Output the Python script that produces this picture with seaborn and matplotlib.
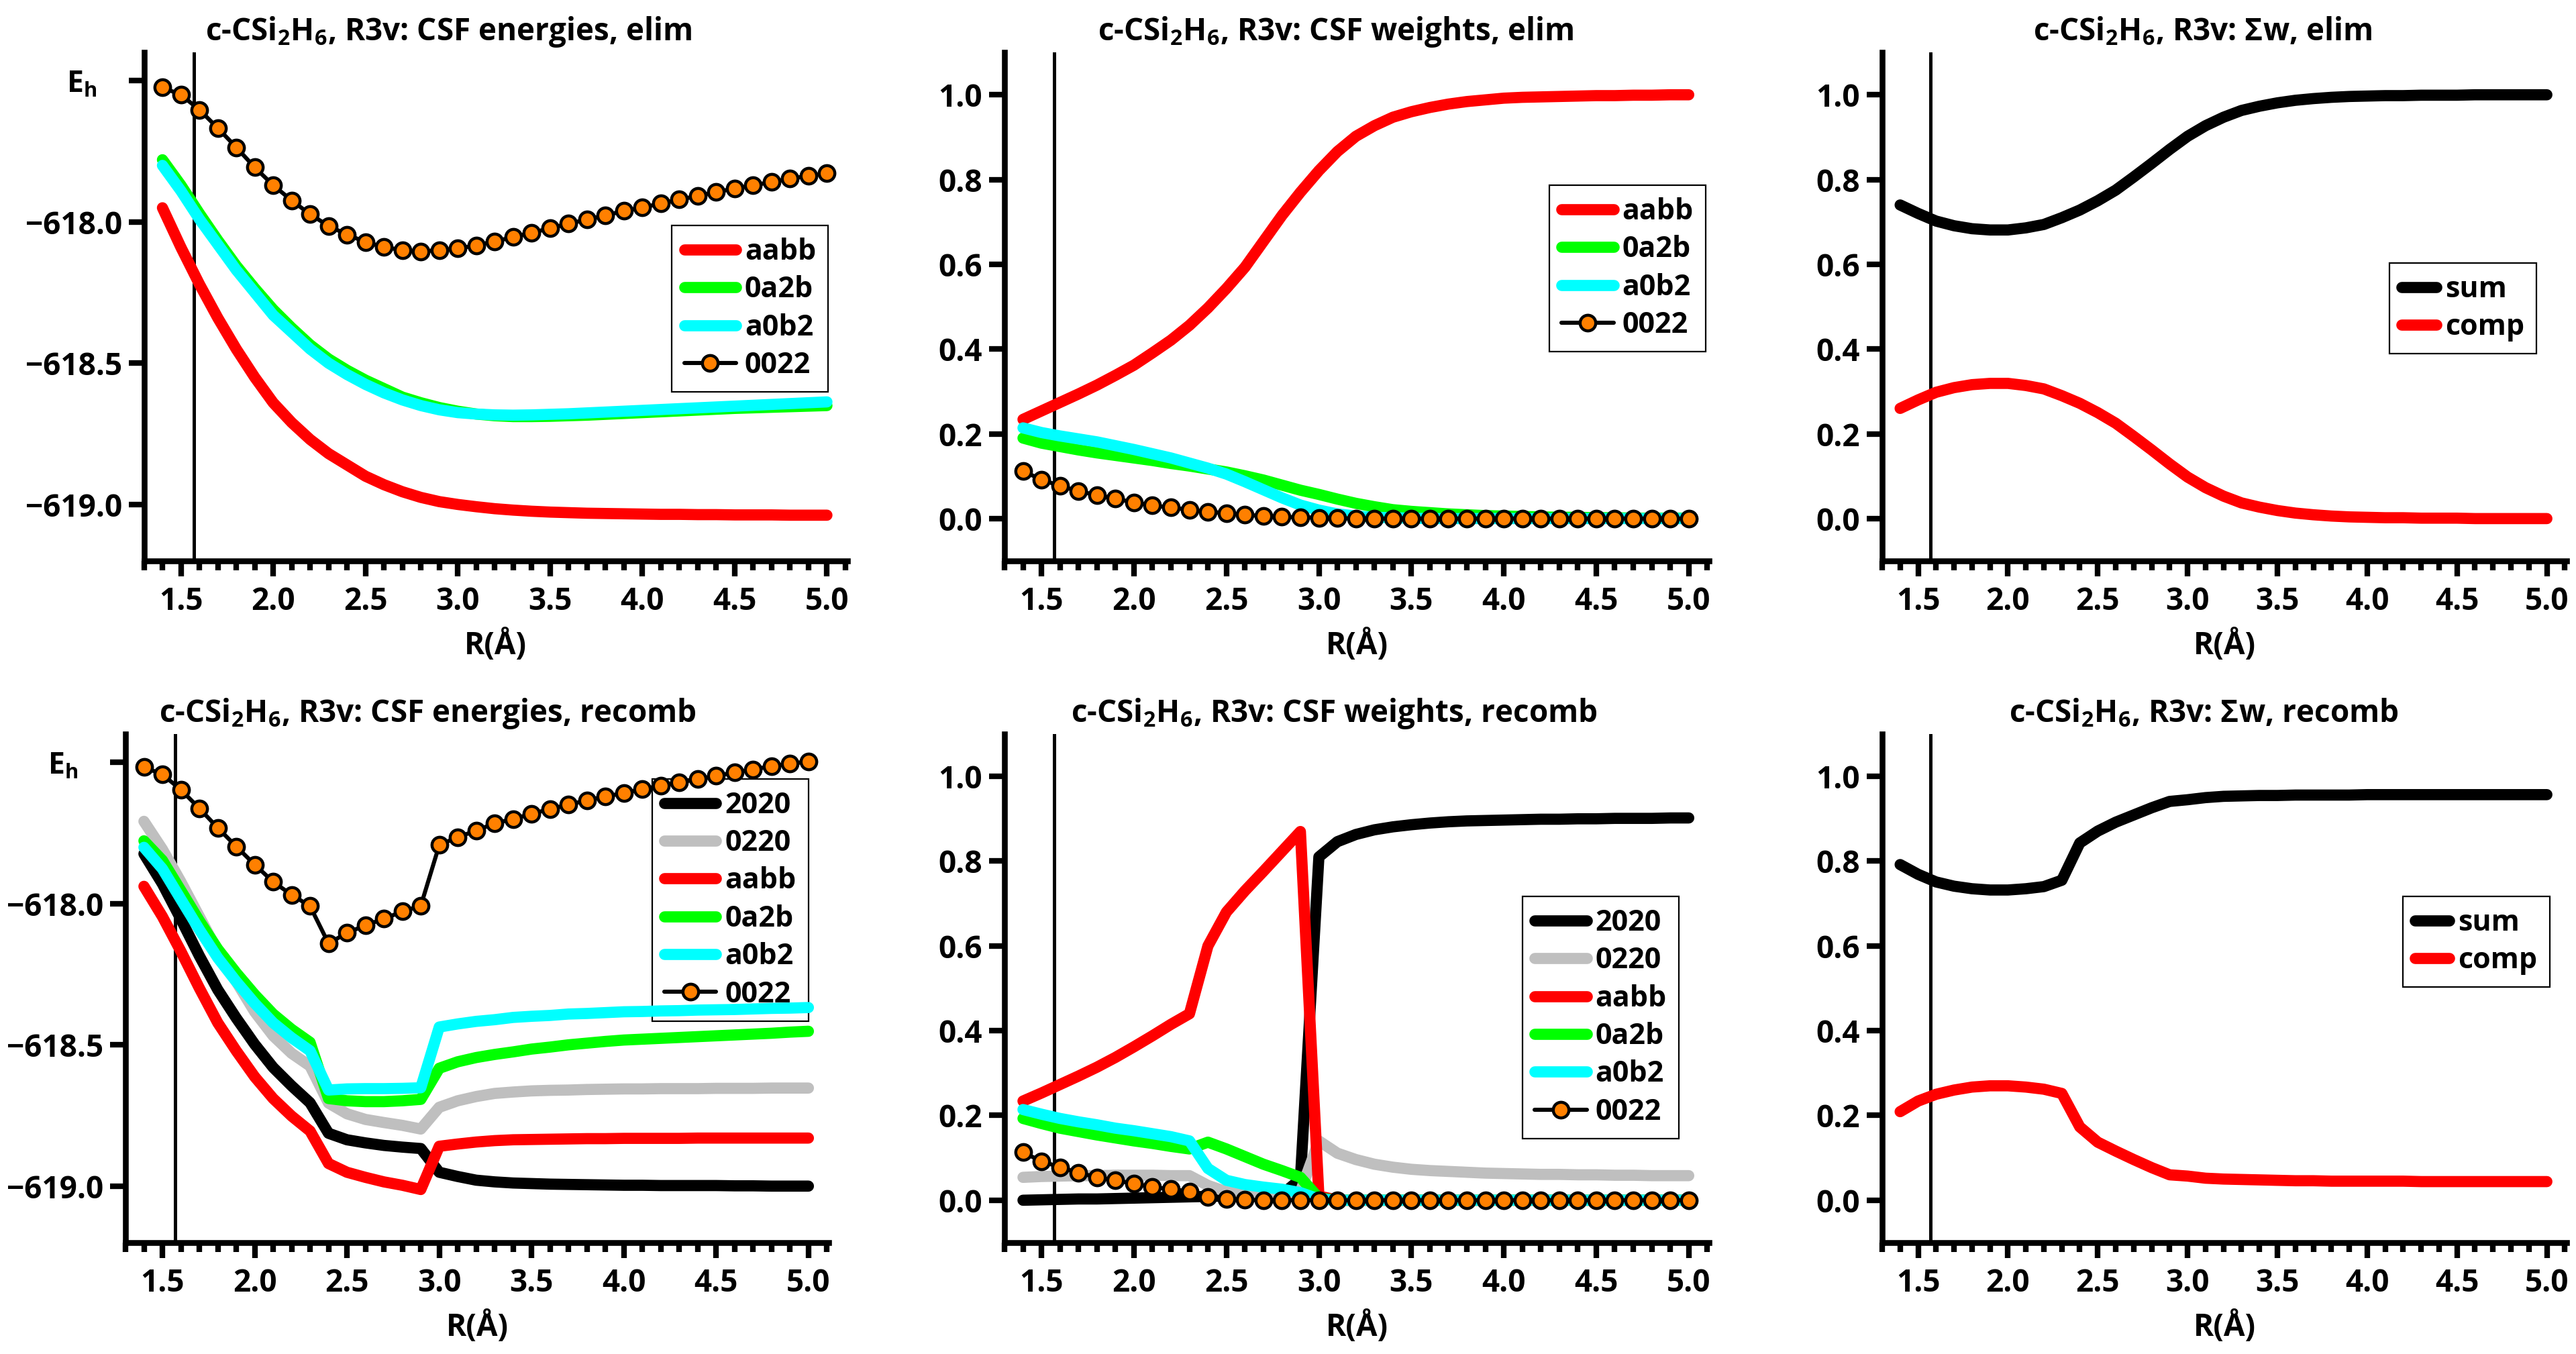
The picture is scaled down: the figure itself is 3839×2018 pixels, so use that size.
import numpy as np
import pandas as pd
import matplotlib
matplotlib.use('Agg')
import matplotlib.pyplot as plt
import seaborn as sns
from matplotlib.ticker import MultipleLocator, FormatStrFormatter

# bond length grid (Angstrom)
R = [1.4, 1.5, 1.6, 1.7, 1.8, 1.9, 2.0, 2.1, 2.2, 2.3, 2.4, 2.5, 2.6, 2.7, 2.8, 2.9, 3.0,
     3.1, 3.2, 3.3, 3.4, 3.5, 3.6, 3.7, 3.8, 3.9, 4.0,
     4.1, 4.2, 4.3, 4.4, 4.5, 4.6, 4.7, 4.8, 4.9, 5.0]
R_EQ = 1.57

# ---- elim: CSF energies (Eh)
e_elim_aabb = [-617.95, -618.09, -618.22, -618.34, -618.45, -618.55, -618.64, -618.71, -618.77, -618.82,
               -618.86, -618.90, -618.93, -618.955, -618.975, -618.99, -619.00,
               -619.008, -619.015, -619.02, -619.024, -619.027, -619.029, -619.031, -619.032, -619.033, -619.034,
               -619.035, -619.035, -619.036, -619.036, -619.037, -619.037, -619.037, -619.038, -619.038, -619.038]
e_elim_0a2b = [-617.78, -617.87, -617.97, -618.065, -618.155, -618.235, -618.31, -618.375, -618.435, -618.485,
               -618.525, -618.56, -618.59, -618.62, -618.64, -618.657, -618.67,
               -618.68, -618.686, -618.689, -618.689, -618.688, -618.686, -618.684, -618.681, -618.678, -618.675,
               -618.672, -618.669, -618.666, -618.663, -618.660, -618.658, -618.656, -618.654, -618.652, -618.650]
e_elim_a0b2 = [-617.80, -617.89, -617.99, -618.08, -618.17, -618.25, -618.33, -618.39, -618.45, -618.50,
               -618.54, -618.575, -618.605, -618.63, -618.65, -618.665, -618.675,
               -618.68, -618.683, -618.684, -618.683, -618.681, -618.679, -618.676, -618.673, -618.670, -618.667,
               -618.664, -618.661, -618.658, -618.655, -618.652, -618.649, -618.646, -618.643, -618.640, -618.637]
e_elim_0022 = [-617.524, -617.55, -617.603, -617.668, -617.736, -617.807, -617.870, -617.924, -617.973, -618.014,
               -618.045, -618.071, -618.089, -618.100, -618.104, -618.100, -618.094,
               -618.083, -618.069, -618.054, -618.038, -618.023, -618.006, -617.992, -617.977, -617.961, -617.949,
               -617.935, -617.921, -617.908, -617.894, -617.882, -617.870, -617.859, -617.847, -617.837, -617.828]

# ---- elim: CSF weights
w_elim_aabb = [0.234, 0.254, 0.274, 0.294, 0.315, 0.338, 0.362, 0.391, 0.421, 0.456,
               0.497, 0.543, 0.593, 0.654, 0.715, 0.770, 0.821,
               0.866, 0.902, 0.927, 0.947, 0.960, 0.970, 0.978, 0.984, 0.988, 0.992,
               0.994, 0.995, 0.996, 0.997, 0.998, 0.998, 0.999, 0.999, 1.0, 1.0]
w_elim_0a2b = [0.190, 0.178, 0.170, 0.162, 0.155, 0.149, 0.143, 0.137, 0.130, 0.124,
               0.117, 0.110, 0.101, 0.091, 0.079, 0.067, 0.057,
               0.046, 0.036, 0.028, 0.021, 0.017, 0.014, 0.011, 0.009, 0.007, 0.006,
               0.005, 0.004, 0.003, 0.003, 0.002, 0.002, 0.001, 0.001, 0.001, 0.001]
w_elim_a0b2 = [0.214, 0.203, 0.195, 0.188, 0.181, 0.172, 0.163, 0.153, 0.143, 0.131,
               0.119, 0.105, 0.087, 0.068, 0.049, 0.032, 0.020,
               0.011, 0.006, 0.003, 0.002, 0.001, 0.0, 0.0, 0.0, 0.0, 0.0,
               0.0, 0.0, 0.0, 0.0, 0.0, 0.0, 0.0, 0.0, 0.0, 0.0]
w_elim_0022 = [0.112, 0.092, 0.077, 0.065, 0.055, 0.047, 0.038, 0.031, 0.026, 0.021,
               0.016, 0.013, 0.009, 0.006, 0.004, 0.003, 0.002,
               0.001, 0.0, 0.0, 0.0, 0.0, 0.0, 0.0, 0.0, 0.0, 0.0,
               0.0, 0.0, 0.0, 0.0, 0.0, 0.0, 0.0, 0.0, 0.0, 0.0]

# ---- elim: sum of weights / complement
s_elim_sum = [0.740, 0.720, 0.702, 0.691, 0.684, 0.681, 0.681, 0.686, 0.694, 0.710,
              0.728, 0.750, 0.775, 0.806, 0.838, 0.871, 0.902,
              0.927, 0.947, 0.963, 0.973, 0.981, 0.987, 0.991, 0.994, 0.996, 0.997,
              0.998, 0.998, 0.999, 0.999, 0.999, 1.0, 1.0, 1.0, 1.0, 1.0]
s_elim_comp = [0.260, 0.280, 0.298, 0.309, 0.316, 0.319, 0.319, 0.314, 0.306, 0.290,
               0.272, 0.250, 0.225, 0.194, 0.162, 0.129, 0.098,
               0.073, 0.053, 0.037, 0.027, 0.019, 0.013, 0.009, 0.006, 0.004, 0.003,
               0.002, 0.002, 0.001, 0.001, 0.001, 0.0, 0.0, 0.0, 0.0, 0.0]

# ---- recomb: CSF energies (Eh)
e_rec_2020 = [-617.824, -617.93, -618.055, -618.185, -618.305, -618.405, -618.498, -618.58, -618.645, -618.705,
              -618.813, -618.836, -618.847, -618.856, -618.862, -618.867, -618.951,
              -618.966, -618.979, -618.985, -618.989, -618.991, -618.993, -618.994, -618.995, -618.996, -618.997,
              -618.997, -618.998, -618.998, -618.998, -618.998, -618.999, -618.999, -619.0, -619.0, -619.0]
e_rec_0220 = [-617.709, -617.808, -617.923, -618.046, -618.169, -618.276, -618.383, -618.468, -618.530, -618.575,
              -618.706, -618.744, -618.764, -618.775, -618.785, -618.798, -618.721,
              -618.698, -618.683, -618.672, -618.667, -618.663, -618.661, -618.660, -618.658, -618.657, -618.656,
              -618.656, -618.655, -618.655, -618.655, -618.654, -618.654, -618.654, -618.653, -618.653, -618.653]
e_rec_aabb = [-617.939, -618.046, -618.169, -618.299, -618.422, -618.521, -618.613, -618.69, -618.752, -618.805,
              -618.92, -618.951, -618.969, -618.985, -618.997, -619.012, -618.859,
              -618.851, -618.844, -618.839, -618.836, -618.835, -618.834, -618.833, -618.832, -618.832, -618.831,
              -618.831, -618.831, -618.831, -618.830, -618.830, -618.830, -618.830, -618.830, -618.830, -618.830]
e_rec_0a2b = [-617.778, -617.847, -617.954, -618.061, -618.161, -618.245, -618.322, -618.391, -618.445, -618.491,
              -618.69, -618.698, -618.701, -618.701, -618.698, -618.693, -618.583,
              -618.56, -618.545, -618.534, -618.525, -618.515, -618.508, -618.50, -618.494, -618.488, -618.483,
              -618.480, -618.477, -618.474, -618.471, -618.468, -618.465, -618.462, -618.459, -618.455, -618.452]
e_rec_a0b2 = [-617.801, -617.877, -617.985, -618.092, -618.192, -618.276, -618.353, -618.422, -618.475, -618.521,
              -618.66, -618.656, -618.655, -618.655, -618.654, -618.652, -618.437,
              -618.426, -618.417, -618.411, -618.403, -618.399, -618.396, -618.391, -618.389, -618.386, -618.383,
              -618.382, -618.380, -618.379, -618.377, -618.376, -618.375, -618.373, -618.371, -618.370, -618.368]
e_rec_0022 = [-617.517, -617.543, -617.597, -617.663, -617.732, -617.798, -617.862, -617.923, -617.969, -618.009,
              -618.141, -618.104, -618.077, -618.054, -618.028, -618.008, -617.793,
              -617.765, -617.742, -617.716, -617.701, -617.682, -617.666, -617.650, -617.635, -617.621, -617.609,
              -617.595, -617.583, -617.571, -617.560, -617.548, -617.536, -617.525, -617.514, -617.505, -617.497]

# ---- recomb: CSF weights
w_rec_2020 = [0.0, 0.001, 0.002, 0.003, 0.003, 0.004, 0.005, 0.006, 0.007, 0.008,
              0.009, 0.010, 0.011, 0.012, 0.013, 0.050, 0.810,
              0.846, 0.863, 0.874, 0.881, 0.886, 0.890, 0.893, 0.895, 0.896, 0.897,
              0.898, 0.899, 0.899, 0.900, 0.900, 0.901, 0.901, 0.901, 0.902, 0.902]
w_rec_0220 = [0.054, 0.056, 0.057, 0.058, 0.058, 0.059, 0.059, 0.059, 0.058, 0.058,
              0.035, 0.020, 0.015, 0.012, 0.010, 0.020, 0.140,
              0.111, 0.096, 0.085, 0.078, 0.073, 0.070, 0.068, 0.066, 0.064, 0.063,
              0.062, 0.061, 0.061, 0.060, 0.060, 0.059, 0.059, 0.058, 0.058, 0.058]
w_rec_aabb = [0.234, 0.253, 0.273, 0.293, 0.314, 0.337, 0.362, 0.388, 0.415, 0.440,
              0.600, 0.680, 0.730, 0.776, 0.823, 0.870, 0.010,
              0.0, 0.0, 0.0, 0.0, 0.0, 0.0, 0.0, 0.0, 0.0, 0.0,
              0.0, 0.0, 0.0, 0.0, 0.0, 0.0, 0.0, 0.0, 0.0, 0.0]
w_rec_0a2b = [0.193, 0.181, 0.170, 0.162, 0.154, 0.147, 0.140, 0.134, 0.127, 0.121,
              0.137, 0.121, 0.103, 0.085, 0.070, 0.054, 0.005,
              0.0, 0.0, 0.0, 0.0, 0.0, 0.0, 0.0, 0.0, 0.0, 0.0,
              0.0, 0.0, 0.0, 0.0, 0.0, 0.0, 0.0, 0.0, 0.0, 0.0]
w_rec_a0b2 = [0.214, 0.203, 0.193, 0.185, 0.178, 0.170, 0.164, 0.157, 0.150, 0.140,
              0.075, 0.047, 0.037, 0.031, 0.026, 0.018, 0.003,
              0.0, 0.0, 0.0, 0.0, 0.0, 0.0, 0.0, 0.0, 0.0, 0.0,
              0.0, 0.0, 0.0, 0.0, 0.0, 0.0, 0.0, 0.0, 0.0, 0.0]
w_rec_0022 = [0.113, 0.092, 0.078, 0.065, 0.054, 0.047, 0.039, 0.031, 0.026, 0.021,
              0.008, 0.003, 0.001, 0.0, 0.0, 0.0, 0.0,
              0.0, 0.0, 0.0, 0.0, 0.0, 0.0, 0.0, 0.0, 0.0, 0.0,
              0.0, 0.0, 0.0, 0.0, 0.0, 0.0, 0.0, 0.0, 0.0, 0.0]

# ---- recomb: sum of weights / complement
s_rec_sum = [0.792, 0.769, 0.751, 0.741, 0.735, 0.732, 0.732, 0.735, 0.740, 0.755,
             0.843, 0.871, 0.892, 0.909, 0.926, 0.941, 0.945,
             0.950, 0.953, 0.954, 0.955, 0.955, 0.956, 0.956, 0.956, 0.956, 0.957,
             0.957, 0.957, 0.957, 0.957, 0.957, 0.957, 0.957, 0.957, 0.957, 0.957]
s_rec_comp = [0.209, 0.234, 0.250, 0.260, 0.267, 0.270, 0.270, 0.267, 0.262, 0.252,
              0.173, 0.137, 0.116, 0.096, 0.077, 0.060, 0.057,
              0.052, 0.050, 0.049, 0.048, 0.047, 0.046, 0.046, 0.045, 0.045, 0.045,
              0.045, 0.045, 0.044, 0.044, 0.044, 0.044, 0.044, 0.044, 0.044, 0.044]

COLORS = {'2020': 'black', '0220': '#bfbfbf', 'aabb': '#ff0000', '0a2b': '#00ff00',
          'a0b2': '#00ffff', 'sum': 'black', 'comp': '#ff0000'}
ORANGE = '#ff8000'
LW = 6.0
FS = 16.5

sns.set_theme(style='ticks')
plt.rcParams['font.family'] = ['Open Sans', 'DejaVu Sans']
plt.rcParams['font.weight'] = 'bold'
plt.rcParams['axes.labelweight'] = 'bold'
plt.rcParams['axes.titleweight'] = 'bold'
plt.rcParams['mathtext.default'] = 'regular'
for k in ['text.color', 'axes.labelcolor', 'xtick.color', 'ytick.color', 'axes.edgecolor']:
    plt.rcParams[k] = 'black'

fig = plt.figure(figsize=(19.195, 10.09), dpi=200)

rects = {
    'TL': [0.0559, 0.5857, 0.27299, 0.3756],
    'TM': [0.38995, 0.5857, 0.27351, 0.3756],
    'TR': [0.73066, 0.5857, 0.26570, 0.3756],
    'BL': [0.04871, 0.08226, 0.27299, 0.37562],
    'BM': [0.38995, 0.08226, 0.27351, 0.37562],
    'BR': [0.73066, 0.08226, 0.26570, 0.37562],
}


def style_axes(ax, kind):
    ax.set_xlim(1.3, 5.11)
    ax.xaxis.set_major_locator(MultipleLocator(0.5))
    ax.xaxis.set_minor_locator(MultipleLocator(0.1))
    ax.xaxis.set_major_formatter(FormatStrFormatter('%.1f'))
    if kind == 'E':
        ax.set_ylim(-619.2, -617.4)
        ax.set_yticks([-619.0, -618.5, -618.0, -617.5])
        ax.set_yticklabels(['\u2212619.0', '\u2212618.5', '\u2212618.0', ''])
        # energy unit label sits beside the top tick
        ax.text(1.045, -617.5, 'E$_h$', ha='right', va='center_baseline', fontsize=FS - 0.5,
                fontweight='bold', clip_on=False)
    else:
        ax.set_ylim(-0.1, 1.1)
        ax.set_yticks([0.0, 0.2, 0.4, 0.6, 0.8, 1.0])
        ax.set_yticklabels(['0.0', '0.2', '0.4', '0.6', '0.8', '1.0'])
    for s in ['top', 'right']:
        ax.spines[s].set_visible(False)
    for s in ['left', 'bottom']:
        ax.spines[s].set_linewidth(3.1)
        ax.spines[s].set_color('black')
    ax.tick_params(which='major', direction='out', length=8.3, width=3.0, color='black',
                   labelsize=FS)
    ax.tick_params(axis='x', which='major', pad=5)
    ax.tick_params(axis='y', which='major', pad=3.5)
    ax.tick_params(which='minor', axis='x', direction='out', length=5.0, width=3.0, color='black')
    ax.tick_params(which='minor', axis='y', length=0)
    for lab in ax.get_xticklabels() + ax.get_yticklabels():
        lab.set_fontweight('bold')
    ax.set_xlabel('R(\u00c5)', fontsize=FS, fontweight='bold', labelpad=6)
    ax.set_ylabel('')
    ax.axvline(R_EQ, color='black', lw=1.8, zorder=1)


def draw(ax, series):
    for name, vals in series:
        if name == '0022':
            sns.lineplot(x=R, y=vals, ax=ax, color='black', lw=2.2, marker='o', ms=8.4,
                         markerfacecolor=ORANGE, markeredgecolor='black', markeredgewidth=1.6,
                         label=name, errorbar=None, zorder=3)
        else:
            sns.lineplot(x=R, y=vals, ax=ax, color=COLORS[name], lw=LW, label=name,
                         errorbar=None, zorder=2)


def legend(ax, anchor, hl):
    leg = ax.legend(loc='upper right', bbox_to_anchor=anchor, borderaxespad=0,
                    fancybox=False, edgecolor='black', framealpha=1, fontsize=15.5,
                    handlelength=hl, handletextpad=0.3, labelspacing=0.31, borderpad=0.42)
    leg.get_frame().set_linewidth(0.8)
    for t in leg.get_texts():
        t.set_fontweight('bold')
    leg.set_zorder(1.5)


panels = [
    ('TL', 'E', 'c-CSi$_2$H$_6$, R3v: CSF energies, elim', 0.433,
     [('aabb', e_elim_aabb), ('0a2b', e_elim_0a2b), ('a0b2', e_elim_a0b2), ('0022', e_elim_0022)],
     (0.973, 0.660), 1.8),
    ('TM', 'W', 'c-CSi$_2$H$_6$, R3v: CSF weights, elim', 0.47,
     [('aabb', w_elim_aabb), ('0a2b', w_elim_0a2b), ('a0b2', w_elim_a0b2), ('0022', w_elim_0022)],
     (0.995, 0.739), 1.8),
    ('TR', 'W', 'c-CSi$_2$H$_6$, R3v: \u03a3w, elim', 0.468,
     [('sum', s_elim_sum), ('comp', s_elim_comp)],
     (0.956, 0.586), 1.2),
    ('BL', 'E', 'c-CSi$_2$H$_6$, R3v: CSF energies, recomb', 0.43,
     [('2020', e_rec_2020), ('0220', e_rec_0220), ('aabb', e_rec_aabb), ('0a2b', e_rec_0a2b),
      ('a0b2', e_rec_a0b2), ('0022', e_rec_0022)],
     (0.971, 0.912), 1.8),
    ('BM', 'W', 'c-CSi$_2$H$_6$, R3v: CSF weights, recomb', 0.468,
     [('2020', w_rec_2020), ('0220', w_rec_0220), ('aabb', w_rec_aabb), ('0a2b', w_rec_0a2b),
      ('a0b2', w_rec_a0b2), ('0022', w_rec_0022)],
     (0.957, 0.681), 1.8),
    ('BR', 'W', 'c-CSi$_2$H$_6$, R3v: \u03a3w, recomb', 0.47,
     [('sum', s_rec_sum), ('comp', s_rec_comp)],
     (0.975, 0.681), 1.2),
]

for key, kind, title, tx, series, anchor, hl in panels:
    ax = fig.add_axes(rects[key])
    draw(ax, series)
    style_axes(ax, kind)
    ax.set_title(title, fontsize=FS, fontweight='bold', x=tx, pad=6.5)
    legend(ax, anchor, hl)

fig.savefig('out.png', dpi=200, facecolor='white')
